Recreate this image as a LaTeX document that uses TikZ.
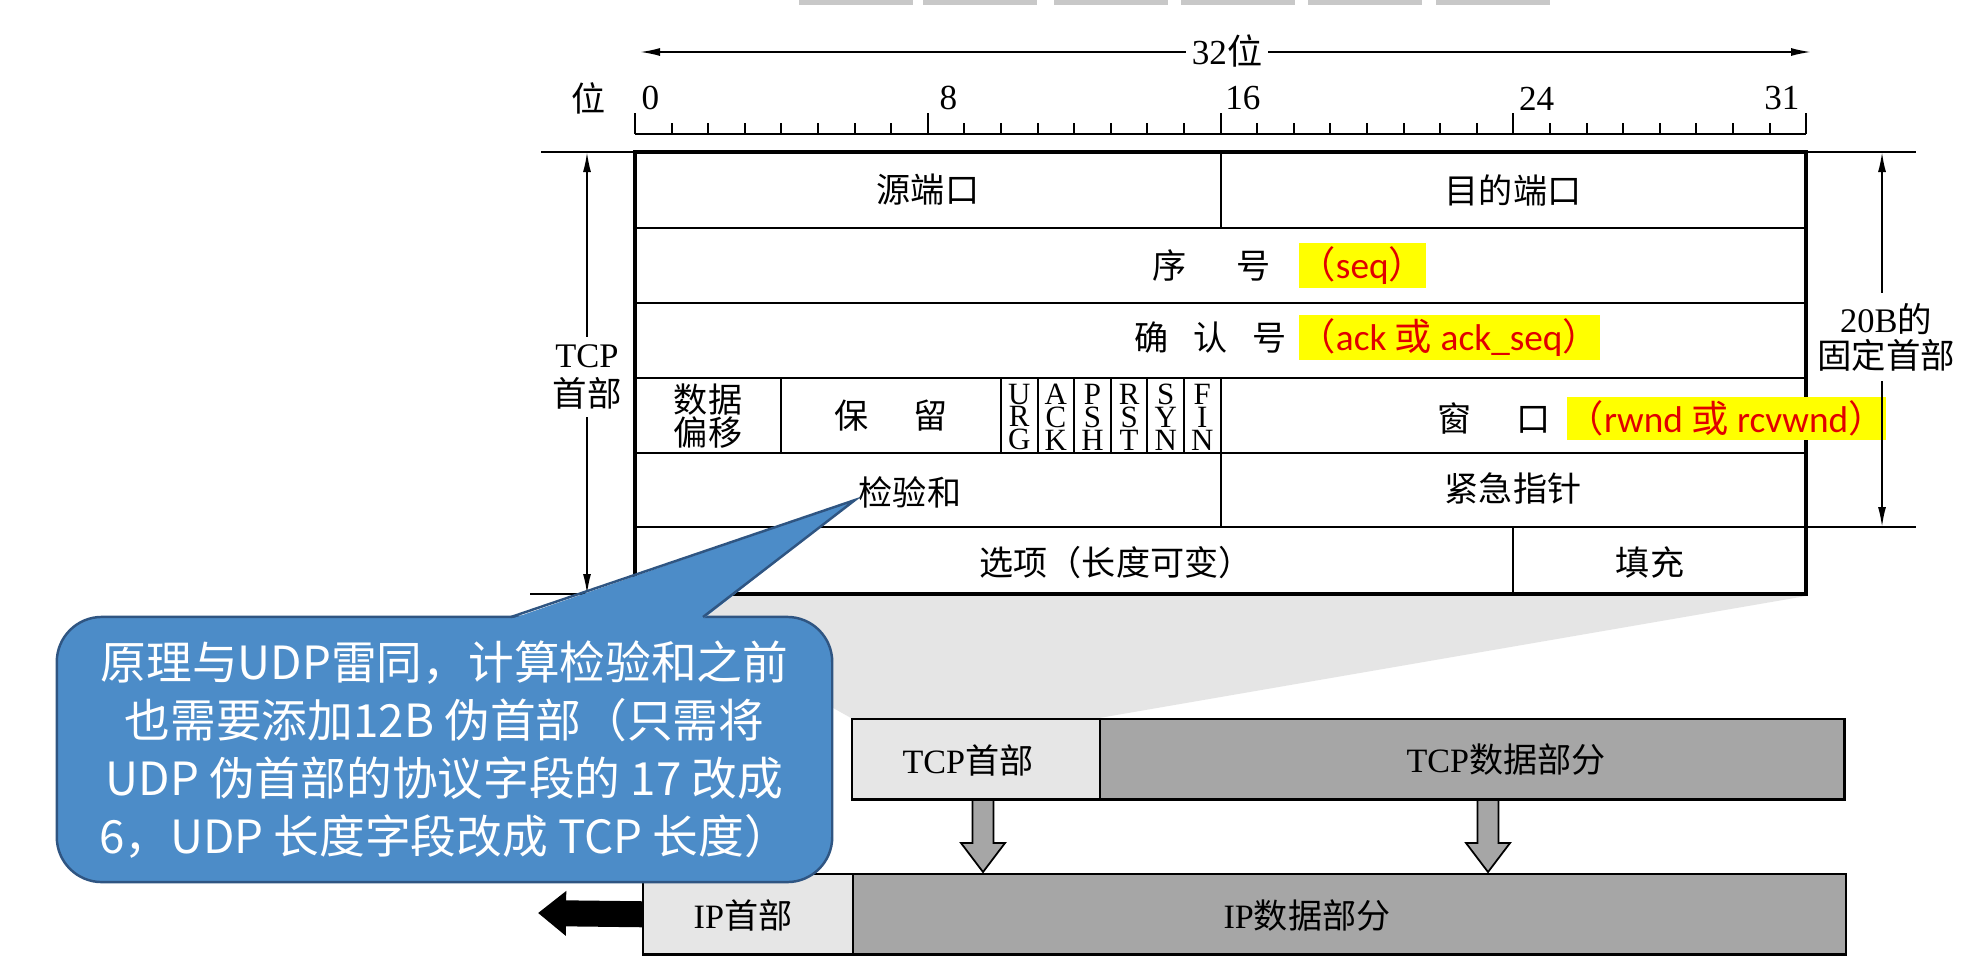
\documentclass[tikz,border=0pt]{standalone}
\usepackage{fontspec}
\setmainfont{Liberation Serif}
\newfontfamily\zhfont{Noto Sans CJK SC}
\newfontfamily\hlfont{Carlito}
\usetikzlibrary{arrows.meta,positioning}
\definecolor{hlyellow}{RGB}{255,255,0}
\definecolor{hlred}{RGB}{225,0,0}
\definecolor{hdrgray}{RGB}{230,230,230}
\definecolor{datagray}{RGB}{166,166,166}
\definecolor{shadegray}{RGB}{229,229,229}
\definecolor{notefill}{RGB}{76,140,200}
\definecolor{noteline}{RGB}{47,85,130}
\definecolor{uibar}{RGB}{200,200,200}
\newcommand{\bitx}[1]{635+36.6*(#1)}
\newcommand{\flagfont}{\fontsize{8.8}{6.5}\selectfont\lineskiplimit=-5pt\relax}
\newcommand{\downblock}[1]{\filldraw[blockarrow] ({#1-10.5},800) -- ({#1+10.5},800) -- ({#1+10.5},843) -- ({#1+22},843) -- (#1,872) -- ({#1-22},843) -- ({#1-10.5},843) -- cycle;}

\begin{document}
\begin{tikzpicture}[x=0.01cm, y=-0.01cm, font=\fontsize{10}{12}\selectfont]
\tikzstyle{cell}=[inner sep=0, font=\zhfont\fontsize{9.7}{11}\selectfont]
\tikzstyle{flag}=[inner sep=0, align=center, font=\flagfont]
\tikzstyle{hl}=[fill=hlyellow, text=hlred, inner sep=0, minimum height=0.45cm, font=\hlfont\fontsize{10.6}{12}\selectfont]
\tikzstyle{dimline}=[{Latex[length=0.2cm,width=0.08cm]}-{Latex[length=0.2cm,width=0.08cm]}, line width=0.5pt]
\tikzstyle{dimlabel}=[fill=white, inner xsep=0.06cm, inner ysep=0.08cm, align=center]
\tikzstyle{extline}=[line width=0.5pt]
\tikzstyle{rulertick}=[line width=0.6pt]
\tikzstyle{rowline}=[line width=0.8pt]
\tikzstyle{colline}=[line width=0.55pt]
\tikzstyle{segbox}=[draw, line width=0.7pt, anchor=north west, minimum height=0.8cm, inner sep=0]
\tikzstyle{blockarrow}=[fill=datagray, draw=black, line width=0.5pt]
\tikzstyle{outarrow}=[line width=0.26cm, -{Triangle[length=0.28cm 0 0, width=0.43cm 0 0]}]
\tikzstyle{note}=[draw=noteline, fill=notefill, line width=0.7pt, rounded corners=0.45cm, minimum width=7.75cm, minimum height=2.65cm, text=white, align=center, font=\zhfont\fontsize{13}{16.5}\selectfont]
\fill[white] (0,0) rectangle (1970,957);
% toolbar remains at the top edge
\foreach \x in {799,923,1054,1181,1308,1436} \fill[uibar] (\x,0) rectangle ++(114,5);
% bit ruler
\coordinate (w0) at (640,52);
\coordinate (w32) at (1811,52);
\draw[dimline] (w0) -- (w32);
\node[dimlabel, inner ysep=0] (bits) at (1227,51) {32{\zhfont 位}};
\node[cell] (bitword) at (589,98) {位};
\draw[rulertick] (635,134) -- ({\bitx{32}},134);
\foreach \i in {0,...,32} {
  \pgfmathsetmacro\tk{mod(\i,8)==0 ? 21 : 11}
  \draw[rulertick] ({\bitx{\i}},134) -- ++(0,-\tk);
}
\foreach \v/\d in {0/6,8/11,16/4,24/5}
  \node[anchor=south west, inner sep=0] (tk\v) at ({\bitx{\v}+\d},111) {\v};
\node[anchor=south east, inner sep=0] (tk31) at ({\bitx{32}-6},111) {31};
% shadow towards the segment
\fill[shadegray] (635,596) -- (1806,596) -- (1099,718) -- (851,718) -- cycle;
% header table
\draw[rowline] foreach \y in {228,303,378,453,527} {(635,\y) -- (1806,\y)};
\draw[colline] ({\bitx{16}},152) -- ({\bitx{16}},228);
\draw[colline] ({\bitx{16}},378) -- ({\bitx{16}},527);
\draw[colline] foreach \b in {4,10,11,12,13,14,15} {({\bitx{\b}},378) -- ({\bitx{\b}},453)};
\draw[colline] ({\bitx{24}},527) -- ({\bitx{24}},594);
\draw[line width=1.1pt] (635,152) rectangle (1806,594);
\node[cell] (srcport) at (928,190) {源端口};
\node[cell] (dstport) at (1513,190) {目的端口};
\node[hl, minimum width=1.265cm, anchor=west] (seqhl) at (1298,265.5) {{\zhfont （}seq{\zhfont ）}};
\node[cell, left=0.27cm of seqhl] (seqno) {序\hspace{1.45em}号};
\node[hl, minimum width=2.97cm, anchor=west] (ackhl) at (1298,337.5) {{\zhfont （}ack {\zhfont 或} ack\_seq{\zhfont ）}};
\node[cell, left=0.11cm of ackhl] (ackno) {确\hspace{0.72em}认\hspace{0.72em}号};
\node[cell, align=center, font=\zhfont\fontsize{9.7}{9.4}\selectfont] (offset) at (708,416) {数据\\偏移};
\node[cell] (resv) at (891,416) {保\hspace{1.3em}留};
\foreach \a/\b/\c [count=\i] in {U/R/G,A/C/K,P/S/H,R/S/T,S/Y/N,F/I/N}
  \node[flag] (flag\i) at ({\bitx{9.5+\i}},417) {\a\\\b\\\c};
\node[hl, minimum width=3.14cm, minimum height=0.43cm, anchor=west] (wndhl) at (1566,418.5) {{\zhfont （}rwnd {\zhfont 或} rcvwnd{\zhfont ）}};
\node[cell, left=0.15cm of wndhl] (wnd) {窗\hspace{1.3em}口};
\node[cell] (cksum) at (910,492) {检验和};
\node[cell] (urgptr) at (1513,488) {紧急指针};
\node[cell] (opts) at (1116,563) {选项（长度可变）};
\node[cell] (pad) at (1650,562) {填充};
% header size marks
\coordinate (tcptop) at (587,152);
\coordinate (tcpbot) at (587,594);
\coordinate (fixtop) at (1882,152);
\coordinate (fixbot) at (1882,527);
\draw[extline] (541,152) -- (635,152);
\draw[extline] (530,594) -- (635,594);
\draw[extline] (1806,152) -- (1916,152);
\draw[extline] (1806,527) -- (1916,527);
\draw[dimline] (tcptop) -- (tcpbot);
\draw[dimline] (fixtop) -- (fixbot);
\node[dimlabel, font=\fontsize{9.8}{11.1}\selectfont] (tcplbl) at (587,377) {TCP\\{\zhfont 首部}};
\node[dimlabel, inner xsep=0.02cm, inner ysep=0.1cm, font=\fontsize{9.8}{10.2}\selectfont] (fixlbl) at (1886,337) {20B{\zhfont 的}\\{\zhfont 固定首部}};
% segment and datagram
\node[segbox, fill=hdrgray, minimum width=2.48cm] (tcph) at (851,718) {};
\node[segbox, fill=datagray, minimum width=7.44cm] (tcpd) at (1099,718) {};
\node[segbox, fill=hdrgray, minimum width=2.1cm] (iph) at (642,873) {};
\node[segbox, fill=datagray, minimum width=9.92cm] (ipd) at (852,873) {};
\node[cell] (tcphlbl) at (968,760) {{\rmfamily TCP}首部};
\node[cell] (tcpdlbl) at (1506,760) {{\rmfamily TCP}数据部分};
\node[cell] (iphlbl) at (743,915) {{\rmfamily IP}首部};
\node[cell] (ipdlbl) at (1307,916) {{\rmfamily IP}数据部分};
\downblock{983}
\downblock{1488}
\coordinate (outtip) at (538,913);
\draw[outarrow] (iph.west) -- (outtip);
% callout on the checksum
\node[note] (note) at (444.5,749.5) {原理与UDP雷同，计算检验和之前\\也需要添加12B 伪首部（只需将\\UDP 伪首部的协议字段的 17 改成\\6，UDP 长度字段改成 TCP 长度）};
\coordinate (ptrL) at (511,617);
\coordinate (ptrR) at (703,617);
\coordinate (cktip) at (855,500);
\fill[notefill] ([yshift=-0.02cm]ptrL) -- (cktip) -- ([yshift=-0.02cm]ptrR) -- cycle;
\draw[noteline, line width=0.7pt] (ptrL) -- (cktip) -- (ptrR);
\end{tikzpicture}
\end{document}
